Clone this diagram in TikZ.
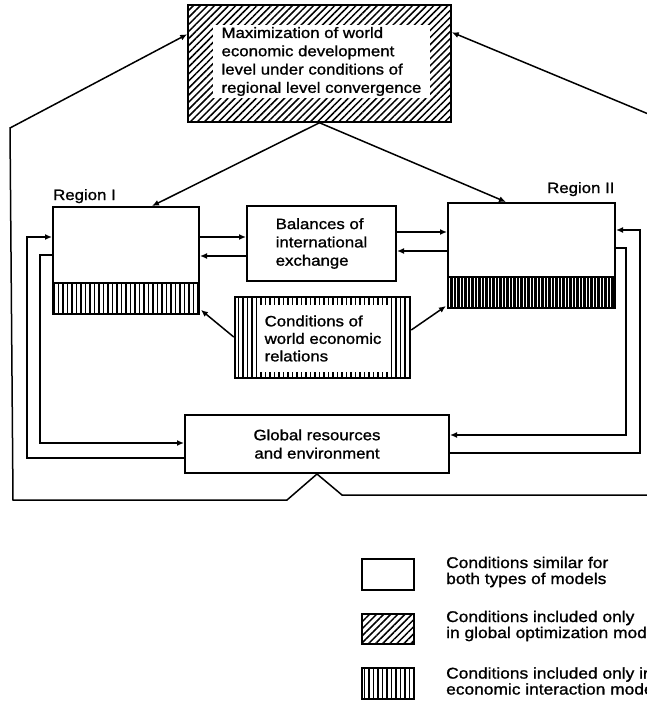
\documentclass[tikz,border=0pt]{standalone}
\usepackage{fontspec}
\setmainfont{Liberation Sans}[FakeStretch=1.12,FakeBold=1.2]
\usetikzlibrary{patterns.meta,calc,arrows.meta}

\tikzset{
  box/.style={draw, line width=2pt, fill=white, inner sep=0pt},
  diaghatch/.style={draw, line width=2.5pt, inner sep=0pt, pattern={Lines[angle=45,distance=5pt,line width=1.5pt]}},
  verthatch/.style={draw, line width=2pt, inner sep=0pt, pattern={Lines[angle=90,distance=4.5pt,line width=1.8pt]}},
  densehatch/.style={draw, line width=2pt, inner sep=0pt, pattern={Lines[angle=90,distance=3.5pt,line width=2.1pt]}},
  link/.style={line width=1.5pt, -{Latex[length=7pt,width=6pt]}},
  txt/.style={font=\fontsize{15}{18.3}\selectfont, align=left, inner sep=0pt},
}

\begin{document}
\begin{tikzpicture}[x=1pt,y=-1pt]
            \useasboundingbox (0,0) rectangle (647,701);
            \clip (0,0) rectangle (647,701);
            % Coordinates
            \coordinate (lt) at (10,128);
            \coordinate (lb) at (13,500);
            \coordinate (bl) at (287,500);
            \coordinate (br) at (342,495);
            \coordinate (rb) at (670,495);
            \coordinate (rt) at (670,123);
            % Boxes
            \node[diaghatch, minimum width=263pt, minimum height=117pt] (maxbox) at (319.5,63.5) {};
            \node[fill=white, inner sep=0pt, minimum width=217pt, minimum height=73pt, txt, align=left] (maxin) at (321.5,61.5)
              {Maximization of world\\economic development\\level under conditions of\\regional level convergence};
            \node[verthatch, minimum width=146pt, minimum height=31pt] (reg1low) at (126,298.5) {};
            \node[box, minimum width=146pt, minimum height=76pt] (reg1) at (126,245) {};
            \node[densehatch, minimum width=167pt, minimum height=31pt] (reg2low) at (531.5,292.5) {};
            \node[box, minimum width=167pt, minimum height=74pt] (reg2) at (531.5,240) {};
            \node[box, minimum width=149pt, minimum height=75pt, txt] (bal) at (321.5,243.5)
              {Balances of\\international\\exchange};
            \node[verthatch, line width=2.5pt, minimum width=175pt, minimum height=81pt] (cond) at (322.5,337.5) {};
            \node[fill=white, minimum width=130pt, minimum height=67pt, txt, font=\fontsize{15}{17.5}\selectfont] (condin) at (323,338.5)
              {Conditions of\\world economic\\relations};
            \node[box, minimum width=264pt, minimum height=58pt, txt, align=center] (glob) at (317,444)
              {Global resources\\and environment};
            % Labels
            \node[txt, anchor=base west] (reg1lab) at (53,200) {Region I};
            \node[txt, anchor=base west] (reg2lab) at (547,193) {Region II};

            % draw additional lines
            \draw[link] (glob.south) -- (bl) -- (lb) -- (lt) -- ($(maxbox.north west)+(0,30)$);
            \draw[link] (glob.south) -- (br) -- (rb) -- (rt) -- ($(maxbox.north east)+(0,28)$);
            \draw[link] (maxbox.south) -- ($(reg1.north west)+(100,0)$);
            \draw[link] (maxbox.south) -- ($(reg2.north west)+(59,0)$);
            \draw[link] (reg1.east |- 0,237) -- (bal.west |- 0,237);
            \draw[link] (bal.west |- 0,256) -- (reg1.east |- 0,256);
            \draw[link] (bal.east |- 0,232) -- (reg2.west |- 0,232);
            \draw[link] (reg2.west |- 0,251) -- (bal.east |- 0,251);
            \draw[link] (cond.west |- 0,337) -- ($(reg1low.south east)+(1,-5)$);
            \draw[link] (cond.east |- 0,330) -- ($(reg2low.south west)+(-1,-3)$);
            \draw[link] (reg1.west |- 0,255) -| (40,443) -- (glob.west |- 0,443);
            \draw[link] (glob.west |- 0,458) -| (27,237) -- (reg1.west |- 0,237);
            \draw[link] (reg2.east |- 0,248) -| (626,435) -- (glob.east |- 0,435);
            \draw[link] (glob.east |- 0,453) -| (640,230) -- (reg2.east |- 0,230);

            % Legend
            \node[box, line width=1.4pt, minimum width=52pt, minimum height=31pt] (leg1) at (388,574.5) {};
            \node[diaghatch, line width=1.6pt, minimum width=52pt, minimum height=30pt] (leg2) at (388,629) {};
            \node[verthatch, line width=1.6pt, minimum width=52pt, minimum height=31pt] (leg3) at (388,683.5) {};
            \node[txt, font=\fontsize{15.5}{16}\selectfont, anchor=west] (leg1txt) at (446,572) {Conditions similar for\\both types of models};
            \node[txt, font=\fontsize{15.5}{16}\selectfont, anchor=west] (leg2txt) at (446,626) {Conditions included only\\in global optimization models};
            \node[txt, font=\fontsize{15.5}{16}\selectfont, anchor=west] (leg3txt) at (446,681) {Conditions included only in\\economic interaction models};
        \end{tikzpicture}
\end{document}
